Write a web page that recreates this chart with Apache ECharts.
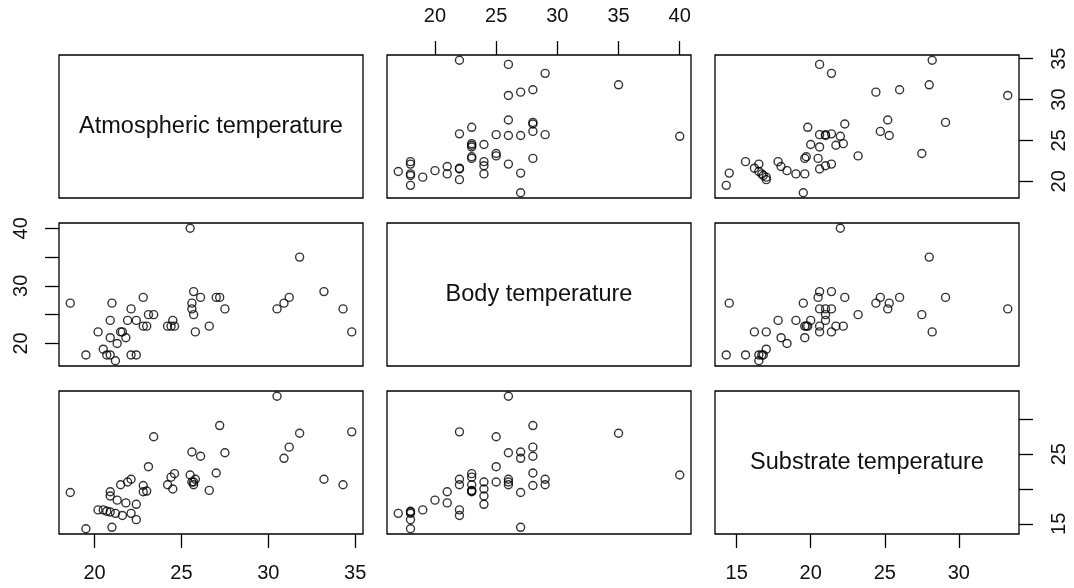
<!DOCTYPE html>
<html>
<head>
<meta charset="utf-8">
<script src="https://cdn.jsdelivr.net/npm/echarts@6/dist/echarts.min.js"></script>
<style>
html,body{margin:0;padding:0;background:#fff;}
#chart{width:1074px;height:588px;}
</style>
</head>
<body>
<div id="chart"></div>
<script>
// ---- data (one entry per observation) ----
var varNames = ['Atmospheric temperature', 'Body temperature', 'Substrate temperature'];
var atmospheric = [18.6,19.5,20.2,20.5,20.7,20.9,20.9,20.9,21.0,21.2,21.3,21.5,21.6,21.8,21.9,22.1,22.1,22.4,22.4,22.8,22.8,23.0,23.1,23.4,24.2,24.4,24.6,24.5,25.5,25.7,25.6,25.6,25.7,25.8,26.1,26.6,27.0,27.2,27.5,30.5,30.9,31.2,31.8,33.2,34.3,34.8];
var bodyTemp    = [27,18,22,19,18,18,21,24,27,17,20,22,22,21,24,26,18,18,24,28,23,23,25,25,23,23,23,24,40,29,27,26,25,22,28,23,28,28,26,26,27,28,35,29,26,22];
var substrate   = [19.5,14.3,17.0,17.0,16.8,16.7,19.6,19.0,14.5,16.5,18.4,20.6,16.2,18.0,21.0,21.4,16.5,15.6,17.8,20.5,19.6,19.7,23.2,27.5,20.6,21.7,22.2,20.0,22.0,20.6,25.3,21.0,21.0,21.4,24.7,19.8,22.3,29.1,25.2,33.3,24.4,26.0,28.0,21.4,20.6,28.2];
// tick values per variable
var atmTicks = [20,25,30,35];
var bodyTicks = [20,25,30,35,40];
var bodyTickLabels = [20,30,40];
var subTicks = [15,20,25,30];
var subTickLabels = [15,25];

// ---- layout ----
var colLeft = [59, 387, 715], colW = 304;
var rowTop = [55, 223, 391], rowH = 143;
var vars = [atmospheric, bodyTemp, substrate];
function range(a){
  var mn = Math.min.apply(null,a), mx = Math.max.apply(null,a), p = 0.04*(mx-mn);
  return [mn-p, mx+p];
}
var ranges = vars.map(range);
var ink = '#111';
var fontFam = '"Liberation Sans", Arial, sans-serif';

var xAxisSpec = [
  {row:2, pos:'bottom', ticks:atmTicks, labels:atmTicks},
  {row:0, pos:'top', ticks:bodyTicks, labels:bodyTicks},
  {row:2, pos:'bottom', ticks:subTicks, labels:subTicks}
];
var yAxisSpec = [
  {col:2, pos:'right', ticks:atmTicks, labels:atmTicks, margin:30},
  {col:0, pos:'left', ticks:bodyTicks, labels:bodyTickLabels, margin:28},
  {col:2, pos:'right', ticks:subTicks, labels:subTickLabels, margin:30}
];

var grids = [], xAxes = [], yAxes = [], series = [], graphics = [];
for (var r = 0; r < 3; r++) {
  for (var c = 0; c < 3; c++) {
    var g = r*3 + c;
    grids.push({left: colLeft[c], top: rowTop[r], width: colW, height: rowH,
      show: true, borderColor: '#000', borderWidth: 1.3, backgroundColor: 'transparent'});
    var xs = xAxisSpec[c], xShow = (xs.row === r);
    xAxes.push({
      gridIndex: g, type: 'value', min: ranges[c][0], max: ranges[c][1],
      position: xs.pos, show: xShow,
      axisLine: {show: false}, splitLine: {show: false},
      axisTick: {show: xShow, length: 14, customValues: xs.ticks, lineStyle: {color: '#000', width: 1.3}},
      axisLabel: {show: xShow, customValues: xs.labels, margin: 29, fontSize: 20, color: ink, fontFamily: fontFam}
    });
    var ys = yAxisSpec[r], yShow = (ys.col === c);
    yAxes.push({
      gridIndex: g, type: 'value', min: ranges[r][0], max: ranges[r][1],
      position: ys.pos, show: yShow,
      axisLine: {show: false}, splitLine: {show: false},
      axisTick: {show: yShow, length: 14, customValues: ys.ticks, lineStyle: {color: '#000', width: 1.3}},
      axisLabel: {show: yShow, customValues: ys.labels, rotate: 90, margin: ys.margin, fontSize: 20, color: ink, fontFamily: fontFam}
    });
    if (r === c) {
      graphics.push({type: 'text', x: colLeft[c] + colW/2, y: rowTop[r] + rowH/2,
        style: {text: varNames[r], fill: ink, font: '23.5px ' + fontFam, align: 'center', verticalAlign: 'middle'}});
    } else {
      var xv = vars[c], yv = vars[r];
      series.push({
        type: 'scatter', xAxisIndex: g, yAxisIndex: g,
        data: xv.map(function(v, i){ return [v, yv[i]]; }),
        symbol: 'circle', symbolSize: 8,
        itemStyle: {color: 'rgba(0,0,0,0)', borderColor: '#000', borderWidth: 1.4},
        emphasis: {disabled: true}, silent: true
      });
    }
  }
}

var chart = echarts.init(document.getElementById('chart'), null, {renderer: 'canvas'});
chart.setOption({
  animation: false,
  backgroundColor: '#fff',
  grid: grids, xAxis: xAxes, yAxis: yAxes, series: series,
  graphic: graphics
});
</script>
</body>
</html>
